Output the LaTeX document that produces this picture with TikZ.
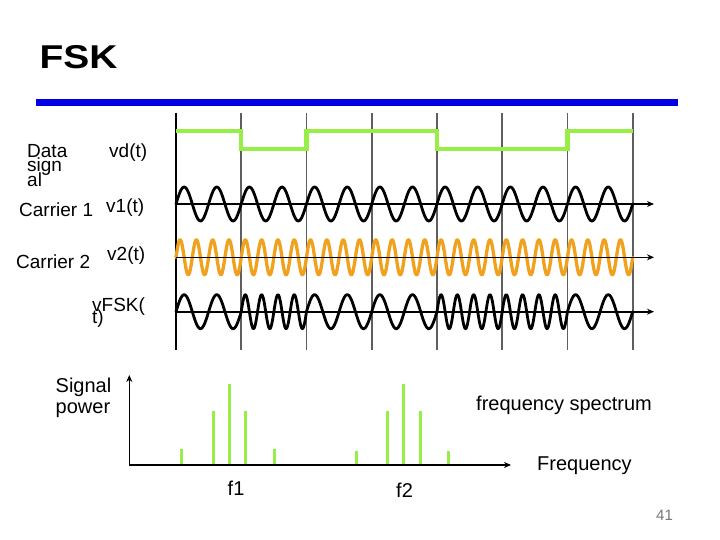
\documentclass[tikz,border=0pt]{standalone}
\usepackage{fontspec}
\setmainfont{Liberation Sans}
\usetikzlibrary{arrows.meta}
\definecolor{datagreen}{RGB}{150,238,70}
\definecolor{carrtwo}{RGB}{240,162,30}
\definecolor{titlebar}{RGB}{0,0,230}
\definecolor{gridgrey}{RGB}{95,95,95}
\definecolor{pagegrey}{RGB}{120,120,120}
\begin{document}
\begin{tikzpicture}[x=1pt,y=-1pt,
  lbl/.style={inner sep=0pt, anchor=base west, font=\fontsize{19}{19}\selectfont},
  lblb/.style={inner sep=0pt, anchor=base west, font=\fontsize{20}{20}\selectfont},
  axisarrow/.style={line width=1.6pt, -{Stealth[length=7pt,width=6pt]}},
  vgrid/.style={line width=1.8pt, gridgrey},
  wave/.style={line width=2.8pt, line join=round, line cap=round},
  specline/.style={line width=3pt, datagreen}]
\useasboundingbox[fill=white] (0,0) rectangle (720,540);
% title
\node[inner sep=0pt, anchor=base west, font=\fontsize{33}{33}\selectfont\bfseries] (title) at (39.5,68.3) {\scalebox{1.18}[1]{FSK}};
\fill[titlebar] (36,99) rectangle (678,105.7);
% vertical grid lines
\draw[line width=1.8pt, black] (176,113) -- (176,350);
\foreach \k in {1,...,7} {
  \draw[vgrid] ({176+\k*65.243},113) -- ({176+\k*65.243},350);
}
% data signal
\draw[line width=4.5pt, datagreen, line join=miter]
  (176,131) -- (241.2,131) -- (241.2,149) -- (306.5,149) -- (306.5,131)
  -- (437,131) -- (437,149) -- (567.4,149) -- (567.4,131) -- (632.7,131);
% carrier 1
\draw[wave, black] plot[domain=0:456.7, samples=500] ({176+\x},{204-17*sin(\x/32.621*360)});
% carrier 2
\draw[wave, carrtwo, line width=3.3pt] plot[domain=0:456.7, samples=900] ({176+\x},{257.3-17.5*sin(\x/16.311*360)});
% FSK signal
\draw[wave, black]
  plot[domain=0:65.243, samples=80] ({176+\x},{311.7-17*sin(\x/32.621*360)})
  -- plot[domain=65.243:130.486, samples=120] ({176+\x},{311.7-17*sin(\x/16.311*360)})
  -- plot[domain=130.486:260.971, samples=160] ({176+\x},{311.7-17*sin(\x/32.621*360)})
  -- plot[domain=260.971:391.457, samples=240] ({176+\x},{311.7-17*sin(\x/16.311*360)})
  -- plot[domain=391.457:456.7, samples=80] ({176+\x},{311.7-17*sin(\x/32.621*360)});
% time axes
\coordinate (a1s) at (176,204); \coordinate (a1e) at (654,204);
\coordinate (a2s) at (176,257.3); \coordinate (a2e) at (654,257.3);
\coordinate (a3s) at (176,311.7); \coordinate (a3e) at (654,311.7);
\draw[axisarrow] (a1s) -- (a1e);
\draw[axisarrow] (a2s) -- (a2e);
\draw[axisarrow] (a3s) -- (a3e);
% labels
\node[lbl] (data1) at (27,158) {Data};
\node[lbl] (data2) at (27,172) {sign};
\node[lbl] (data3) at (27,187) {al};
\node[lbl] (vd) at (109,158) {vd(t)};
\node[lbl] (car1) at (19,216) {Carrier 1};
\node[lbl] (v1) at (106,213) {v1(t)};
\node[lbl] (car2) at (16,268) {Carrier 2};
\node[lbl] (v2) at (107,260) {v2(t)};
\node[lbl] (vfska) at (92,311) {vFSK(};
\node[lbl] (vfskb) at (92,323.5) {t)};
% spectrum
\coordinate (origin) at (129.3,465);
\coordinate (yend) at (129.3,375);
\coordinate (xend) at (511,465);
\foreach \xx/\yy in {181.7/449, 213.3/410.7, 229.3/384.3, 245.7/410.7, 274/449,
                     356.7/450.7, 387.7/411, 403.3/384, 420/411, 448.3/451} {
  \draw[specline] (\xx,465) -- (\xx,\yy);
}
\draw[axisarrow] (origin) -- (yend);
\draw[axisarrow] (origin) -- (xend);
\node[lblb] (sig1) at (55.5,392) {Signal};
\node[lblb] (sig2) at (55.5,413) {power};
\node[lblb] (fspec) at (476,410) {frequency spectrum};
\node[lblb] (freq) at (537,470.5) {Frequency};
\node[lblb] (f1) at (227.5,495) {f1};
\node[lblb] (f2) at (396,497) {f2};
\node[inner sep=0pt, anchor=base west, font=\fontsize{15}{15}\selectfont, text=pagegrey] (pnum) at (656,520.7) {41};
\end{tikzpicture}
\end{document}
